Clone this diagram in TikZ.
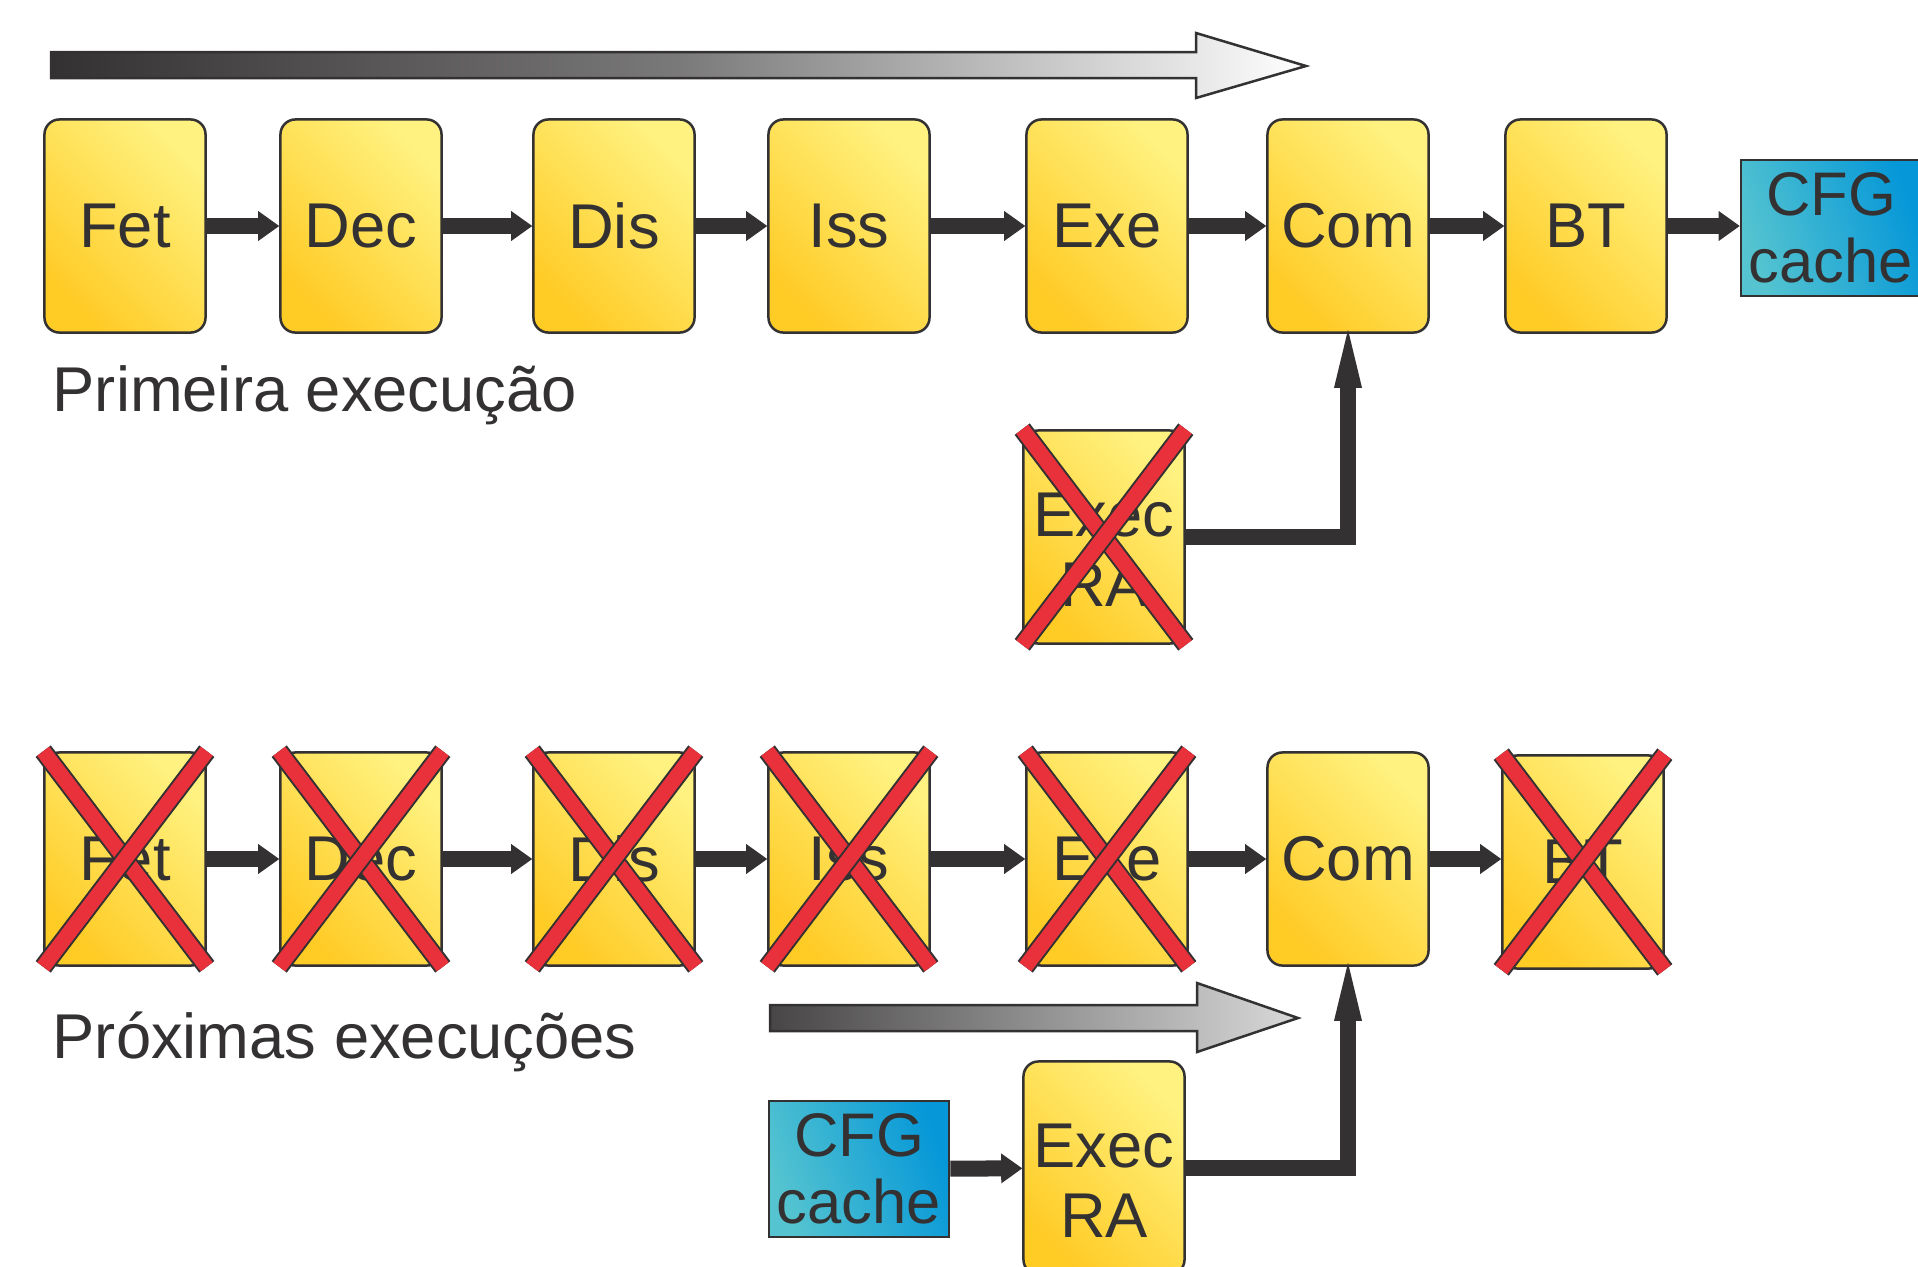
\documentclass[tikz,border=0pt]{standalone}
\usepackage{fontspec}
\setmainfont{Liberation Sans}
\usetikzlibrary{arrows.meta}

\definecolor{dark}{HTML}{333132}
\definecolor{yellowA}{HTML}{FFCB25}
\definecolor{yellowB}{HTML}{FFF280}
\definecolor{cyanA}{HTML}{55C4D0}
\definecolor{cyanB}{HTML}{0597D8}
\definecolor{crossred}{HTML}{E8313A}
\newcommand{\boxfont}{\fontsize{18}{19}\selectfont}
\newcommand{\lowered}[1]{\raisebox{-0.36cm}[0pt][0pt]{\begin{tabular}{@{}c@{}}#1\end{tabular}}}

\tikzset{
  stage/.style={draw=dark, line width=0.025cm, rounded corners=0.15cm,
    minimum width=1.61cm, minimum height=2.13cm, inner sep=0pt, align=center,
    text=dark, font=\boxfont, top color=yellowB, bottom color=yellowA, shading angle=-45},
  execbox/.style={stage, font=\fontsize{18}{19.8}\selectfont},
  cache/.style={draw=dark, line width=0.025cm, minimum width=1.8cm, minimum height=1.36cm,
    inner sep=0pt, align=center, text=dark, font=\fontsize{17.5}{19}\selectfont,
    left color=cyanA, right color=cyanB, shading angle=110},
  flow/.style={draw=dark, line width=0.16cm, -{Triangle[length=0.21cm,width=0.30cm,line width=0pt]}},
  feed/.style={draw=dark, line width=0.16cm, shorten >=-0.04cm,
    -{Triangle[length=0.58cm,width=0.28cm,line width=0pt]}},
  xband/.style={draw=dark, line width=0.02cm, double=crossred, double distance=0.15cm},
  bigarrow/.style={draw=dark, line width=0.025cm},
}
\newcommand{\strikebox}[1]{%
  \draw[xband] (#1.north west) -- (#1.south east);
  \draw[xband] (#1.south west) -- (#1.north east);}

\begin{document}
\begin{tikzpicture}[x=0.01cm, y=-0.01cm]
  \useasboundingbox (0,0) rectangle (1918,1266);

  \draw[bigarrow, left color=dark, right color=white, middle color=dark!65] (51,52) -- (1196,52)
    -- (1196,33) -- (1306,66) -- (1196,98) -- (1196,78) -- (51,78) -- cycle;

  \node[stage] (fetA) at (125,226) {Fet};
  \node[stage] (decA) at (361,226) {Dec};
  \node[stage] (disA) at (614,226) {Dis};
  \node[stage] (issA) at (849,226) {Iss};
  \node[stage] (exeA) at (1107,226) {Exe};
  \node[stage] (comA) at (1348,226) {Com};
  \node[stage] (btA) at (1586,226) {BT};
  \node[cache] (cfgA) at (1831,228) {CFG\\cache};

  \draw[flow] (fetA) -- (decA);
  \draw[flow] (decA) -- (disA);
  \draw[flow] (disA) -- (issA);
  \draw[flow] (issA) -- (exeA);
  \draw[flow] (exeA) -- (comA);
  \draw[flow] (comA) -- (btA);
  \draw[flow] (btA) -- (cfgA.west |- btA);

  \node[anchor=base west, text=dark, font=\boxfont, inner sep=0pt] (first) at (52,411) {Primeira execução};

  \node[execbox] (execA) at (1104,537) {\lowered{Exec\\RA}};
  \draw[feed] (execA.east) -| (comA.south);
  \strikebox{execA}

  \node[stage] (fetB) at (125,859) {Fet};
  \node[stage] (decB) at (361,859) {Dec};
  \node[stage] (disB) at (614,859) {Dis};
  \node[stage] (issB) at (849,859) {Iss};
  \node[stage] (exeB) at (1107,859) {Exe};
  \node[stage] (comB) at (1348,859) {Com};
  \node[stage] (btB) at (1583,862) {BT};

  \draw[flow] (fetB) -- (decB);
  \draw[flow] (decB) -- (disB);
  \draw[flow] (disB) -- (issB);
  \draw[flow] (issB) -- (exeB);
  \draw[flow] (exeB) -- (comB);
  \draw[flow] (comB.east) -- (comB.east -| btB.west);

  \strikebox{fetB}
  \strikebox{decB}
  \strikebox{disB}
  \strikebox{issB}
  \strikebox{exeB}
  \strikebox{btB}

  \node[anchor=base west, text=dark, font=\boxfont, inner sep=0pt] (next) at (52,1058) {Próximas execuções};

  \draw[bigarrow, left color=dark!90, right color=black!15] (770,1005) -- (1197,1005) -- (1197,983)
    -- (1298,1018) -- (1197,1052) -- (1197,1031) -- (770,1031) -- cycle;

  \node[cache] (cfgB) at (859,1169) {CFG\\cache};
  \node[execbox] (execB) at (1104,1168) {\lowered{Exec\\RA}};
  \draw[flow] (cfgB) -- (execB);
  \draw[feed] (execB.east) -| (comB.south);
\end{tikzpicture}
\end{document}
